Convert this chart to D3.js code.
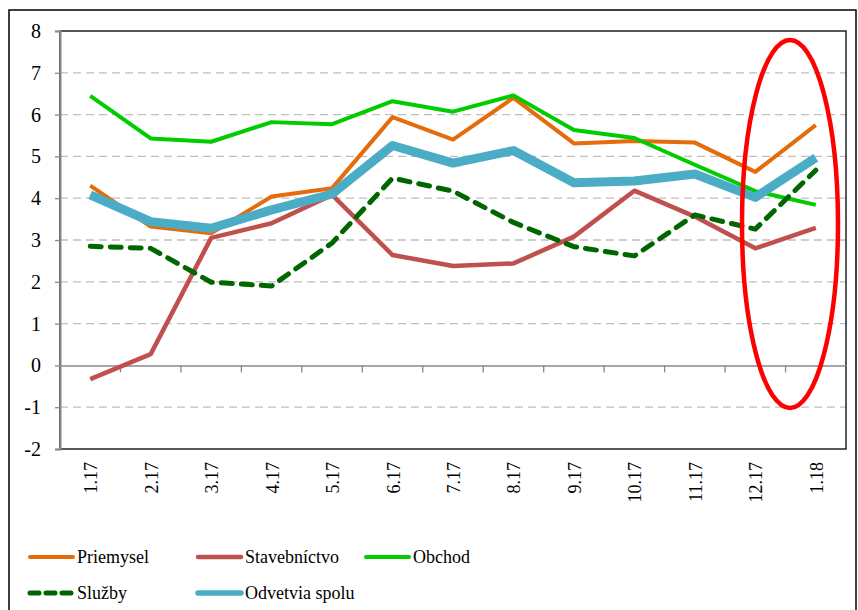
<!DOCTYPE html>
<html lang="sk">
<head>
  <meta charset="UTF-8" />
  <title>Odvetvia</title>
  <style>
    html, body { margin: 0; background: #fff; }
    svg { display: block; }
    .grid line { stroke: #bfbfbf; stroke-width: 1.3; stroke-dasharray: 8 5; }
  </style>
  <script src="https://d3js.org/d3.v7.min.js"></script>
</head>
<body>
  <svg id="chart" width="858" height="610"></svg>
  <script>
    // data
    const months = ["1.17", "2.17", "3.17", "4.17", "5.17", "6.17", "7.17", "8.17", "9.17", "10.17", "11.17", "12.17", "1.18"];
    const priemysel     = [4.30, 3.32, 3.16, 4.04, 4.24, 5.94, 5.40, 6.40, 5.31, 5.37, 5.33, 4.63, 5.75];
    const stavebnictvo  = [-0.33, 0.27, 3.05, 3.40, 4.08, 2.64, 2.38, 2.44, 3.08, 4.18, 3.56, 2.80, 3.29];
    const obchod        = [6.45, 5.43, 5.35, 5.82, 5.77, 6.32, 6.07, 6.46, 5.63, 5.44, 4.80, 4.17, 3.84];
    const sluzby        = [2.85, 2.80, 1.99, 1.90, 2.93, 4.48, 4.17, 3.42, 2.84, 2.62, 3.60, 3.26, 4.67];
    const spolu         = [4.08, 3.44, 3.28, 3.72, 4.10, 5.26, 4.84, 5.14, 4.37, 4.41, 4.58, 4.02, 4.97];
    const yTicks = [-2, -1, 0, 1, 2, 3, 4, 5, 6, 7, 8];

    const series = [
      { name: "Priemysel", values: priemysel, color: "#e46c0a", width: 4 },
      { name: "Stavebníctvo", values: stavebnictvo, color: "#c0504d", width: 4.5 },
      { name: "Obchod", values: obchod, color: "#00cc00", width: 4 },
      { name: "Služby", values: sluzby, color: "#006600", width: 5, dash: "11 9" },
      { name: "Odvetvia spolu", values: spolu, color: "#4bacc6", width: 9 }
    ];
    const drawOrder = [0, 1, 2, 4, 3];
    const serif = "Liberation Serif, DejaVu Serif, serif";

    const svg = d3.select("#chart");
    const plotL = 60, plotR = 846, plotT = 31, plotB = 449;

    // outer frame
    svg.append("rect").attr("x", 9).attr("y", 10).attr("width", 847).attr("height", 620)
      .attr("fill", "none").attr("stroke", "#000").attr("stroke-width", 1.5);

    const x = d3.scaleBand().domain(months).range([plotL, plotR]);
    const y = d3.scaleLinear().domain([-2, 8]).range([plotB, plotT]);

    // grid
    svg.append("g").attr("class", "grid")
      .selectAll("line").data(yTicks.filter(d => d !== 0 && d !== 8 && d !== -2)).join("line")
      .attr("x1", plotL).attr("x2", plotR).attr("y1", d => y(d)).attr("y2", d => y(d));

    // plot frame
    svg.append("rect").attr("x", plotL).attr("y", plotT).attr("width", plotR - plotL).attr("height", plotB - plotT)
      .attr("fill", "none").attr("stroke", "#222").attr("stroke-width", 1.5);

    // y axis
    const yAxis = svg.append("g").attr("transform", `translate(${plotL},0)`)
      .call(d3.axisLeft(y).tickValues(yTicks).tickSize(5).tickPadding(14).tickFormat(d => String(d)));
    yAxis.attr("font-family", serif).attr("font-size", 20);
    yAxis.select(".domain").attr("stroke", "#888").attr("stroke-width", 2);
    yAxis.selectAll(".tick line").attr("stroke", "#888").attr("stroke-width", 1.3);
    yAxis.selectAll("text").attr("fill", "#000");

    // x axis along zero
    const xAxis = svg.append("g").attr("transform", `translate(0,${y(0)})`)
      .call(d3.axisBottom(x).tickSize(0).tickFormat(""));
    xAxis.select(".domain").attr("stroke", "#888").attr("stroke-width", 1.5);
    svg.append("g").selectAll("line").data(months.slice(1)).join("line")
      .attr("x1", d => x(d)).attr("x2", d => x(d))
      .attr("y1", y(0)).attr("y2", y(0) + 7)
      .attr("stroke", "#888").attr("stroke-width", 1.3);

    // category labels
    svg.append("g").attr("font-family", serif).attr("font-size", 18)
      .selectAll("text").data(months).join("text")
      .attr("transform", d => `translate(${x(d) + x.bandwidth() / 2 + 7},462) rotate(-90)`)
      .attr("text-anchor", "end").text(d => d);

    // lines
    const line = d3.line().x((d, i) => x(months[i]) + x.bandwidth() / 2).y(d => y(d));
    drawOrder.forEach(k => {
      const s = series[k];
      svg.append("path").datum(s.values).attr("d", line)
        .attr("fill", "none").attr("stroke", s.color).attr("stroke-width", s.width)
        .attr("stroke-linejoin", "round")
        .attr("stroke-linecap", s.dash ? "round" : "butt")
        .attr("stroke-dasharray", s.dash || null);
    });

    // highlight ellipse
    svg.append("ellipse").attr("cx", 790).attr("cy", 224).attr("rx", 48).attr("ry", 184)
      .attr("fill", "none").attr("stroke", "#ff0000").attr("stroke-width", 4.5);

    // legend
    const legendPos = [[30, 557], [198, 557], [366, 557], [30, 593], [198, 593]];
    const legend = svg.append("g").attr("font-family", serif).attr("font-size", 18)
      .selectAll("g").data(series).join("g")
      .attr("transform", (d, i) => `translate(${legendPos[i][0]},${legendPos[i][1]})`);
    legend.append("line").attr("x1", 0).attr("x2", 43).attr("y1", 0).attr("y2", 0)
      .attr("stroke", d => d.color)
      .attr("stroke-width", d => Math.min(d.width, 5.5))
      .attr("stroke-linecap", "round")
      .attr("stroke-dasharray", d => d.dash ? "9 7" : null);
    legend.append("text").attr("x", 47).attr("y", 6).text(d => d.name);
  </script>
</body>
</html>
